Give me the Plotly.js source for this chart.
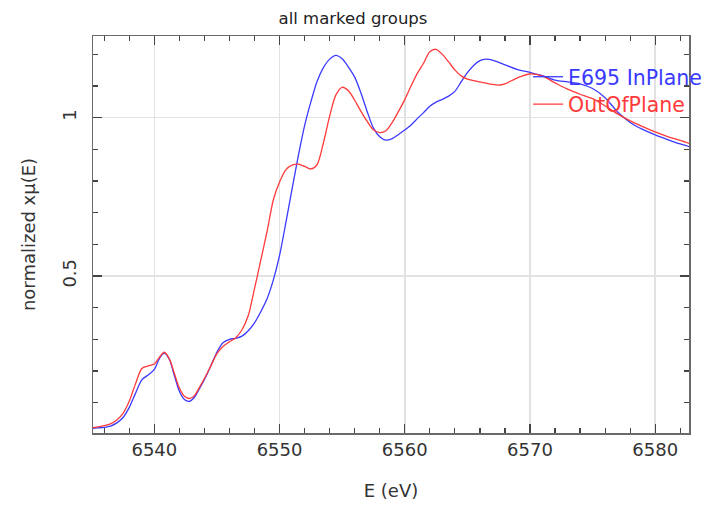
<!DOCTYPE html>
<html>
<head>
<meta charset="utf-8">
<script src="https://cdn.plot.ly/plotly-3.0.1.min.js"></script>
<style>html,body{margin:0;padding:0;background:#fff;}#chart{width:706px;height:506px;}</style>
</head>
<body>
<div id="chart"></div>
<script>
// Energy grid (eV)
var energy = [6535.0, 6535.5, 6536, 6536.5, 6537, 6537.5, 6538, 6538.5, 6539, 6539.5,
  6540, 6540.4, 6540.8, 6541.2, 6541.6, 6542, 6542.4, 6542.8, 6543.2, 6543.6,
  6544, 6544.5, 6545, 6545.5, 6546, 6546.5, 6547, 6547.5, 6548, 6548.5,
  6549, 6549.5, 6550, 6550.5, 6551, 6551.5, 6552, 6552.5, 6553, 6553.5,
  6554, 6554.5, 6555, 6555.5, 6556, 6556.5, 6557, 6557.5, 6558, 6558.5,
  6559, 6559.5, 6560, 6560.5, 6561, 6561.5, 6562, 6562.5, 6563, 6563.5,
  6564, 6564.5, 6565, 6565.5, 6566, 6566.5, 6567, 6567.5, 6568, 6569,
  6570, 6571, 6572, 6573, 6574, 6575, 6576, 6577, 6578, 6579,
  6580, 6581, 6582, 6583];

// E695 InPlane (blue)
var muInPlane = [0.018, 0.020, 0.022, 0.026, 0.036, 0.053, 0.085, 0.130, 0.172, 0.187,
  0.205, 0.239, 0.256, 0.236, 0.185, 0.136, 0.110, 0.104, 0.117, 0.144,
  0.173, 0.215, 0.260, 0.290, 0.300, 0.303, 0.310, 0.327, 0.352, 0.387,
  0.428, 0.487, 0.565, 0.668, 0.775, 0.880, 0.975, 1.050, 1.115, 1.158,
  1.185, 1.197, 1.186, 1.160, 1.128, 1.078, 1.019, 0.967, 0.940, 0.929,
  0.934, 0.947, 0.961, 0.977, 0.997, 1.016, 1.036, 1.049, 1.058, 1.068,
  1.083, 1.113, 1.142, 1.165, 1.180, 1.185, 1.182, 1.175, 1.167, 1.152,
  1.143, 1.133, 1.119, 1.113, 1.107, 1.092, 1.063, 1.018, 0.985, 0.963,
  0.946, 0.931, 0.917, 0.905];

// OutOfPlane (red)
var muOutOfPlane = [0.020, 0.023, 0.027, 0.033, 0.045, 0.066, 0.105, 0.160, 0.208, 0.216,
  0.222, 0.243, 0.259, 0.238, 0.192, 0.146, 0.120, 0.113, 0.122, 0.148,
  0.176, 0.215, 0.255, 0.278, 0.292, 0.305, 0.330, 0.375, 0.460, 0.550,
  0.640, 0.740, 0.797, 0.835, 0.850, 0.853, 0.846, 0.838, 0.852, 0.920,
  1.005, 1.072, 1.096, 1.085, 1.055, 1.020, 0.988, 0.962, 0.953, 0.959,
  0.985, 1.020, 1.057, 1.100, 1.140, 1.172, 1.208, 1.216, 1.200, 1.176,
  1.151, 1.132, 1.122, 1.117, 1.113, 1.109, 1.105, 1.103, 1.107, 1.126,
  1.138, 1.131, 1.110, 1.090, 1.074, 1.060, 1.037, 1.012, 0.990, 0.972,
  0.955, 0.940, 0.928, 0.915];

var seriesNames = ['E695 InPlane', 'OutOfPlane'];
var seriesColors = ['#3a3aff', '#ff3a3a'];
var xTickVals = [6540, 6550, 6560, 6570, 6580];
var yTickVals = [0.5, 1];
var yTickText = ['0.5', '1'];

var FONT = 'DejaVu Sans, sans-serif';

var traces = [
  {x: energy, y: muInPlane, type: 'scatter', mode: 'lines', name: seriesNames[0],
   line: {color: seriesColors[0], width: 1.3, shape: 'spline', smoothing: 0.8}, legend: 'legend'},
  {x: energy, y: muOutOfPlane, type: 'scatter', mode: 'lines', name: seriesNames[1],
   line: {color: seriesColors[1], width: 1.3, shape: 'spline', smoothing: 0.8}, legend: 'legend2'}
];

var axisCommon = {
  showline: true, mirror: 'ticks', linecolor: '#6a6a6a', linewidth: 1.5,
  ticks: 'inside', ticklen: 9, tickwidth: 1.2, tickcolor: '#444',
  showgrid: true, gridcolor: '#e2e2e2', gridwidth: 1.5, zeroline: false,
  tickfont: {family: FONT, size: 18, color: '#333'}
};

var layout = {
  width: 706, height: 506,
  paper_bgcolor: '#fff', plot_bgcolor: '#fff',
  margin: {l: 93, r: 17, t: 36, b: 73, autoexpand: false},
  title: {text: 'all marked groups', x: 0.5, xref: 'container', y: 0.963, yref: 'container',
          yanchor: 'middle', font: {family: FONT, size: 16.5, color: '#222'}},
  xaxis: Object.assign({}, axisCommon, {
    range: [6535.1, 6582.7], tickmode: 'array', tickvals: xTickVals,
    minor: {dtick: 2, tick0: 6540, ticks: 'inside', ticklen: 5, tickcolor: '#444', tickwidth: 1.2, showgrid: false},
    title: {text: 'E (eV)', standoff: 25, font: {family: FONT, size: 18, color: '#333'}}
  }),
  yaxis: Object.assign({}, axisCommon, {
    range: [0.004, 1.258], tickmode: 'array', tickvals: yTickVals, ticktext: yTickText,
    tickangle: -90, ticklabelstandoff: 8,
    minor: {dtick: 0.1, tick0: 0, ticks: 'inside', ticklen: 5, tickcolor: '#444', tickwidth: 1.2, showgrid: false},
    title: {text: 'normalized xμ(E)', standoff: 19, font: {family: FONT, size: 18, color: '#333'}}
  }),
  showlegend: true,
  legend: {x: 0.73, y: 0.897, xanchor: 'left', yanchor: 'middle', bgcolor: 'rgba(0,0,0,0)',
           borderwidth: 0, font: {family: FONT, size: 20.5, color: seriesColors[0]}},
  legend2: {x: 0.73, y: 0.828, xanchor: 'left', yanchor: 'middle', bgcolor: 'rgba(0,0,0,0)',
            borderwidth: 0, font: {family: FONT, size: 20.5, color: seriesColors[1]}}
};

Plotly.newPlot('chart', traces, layout, {displayModeBar: false, staticPlot: true});
</script>
</body>
</html>
